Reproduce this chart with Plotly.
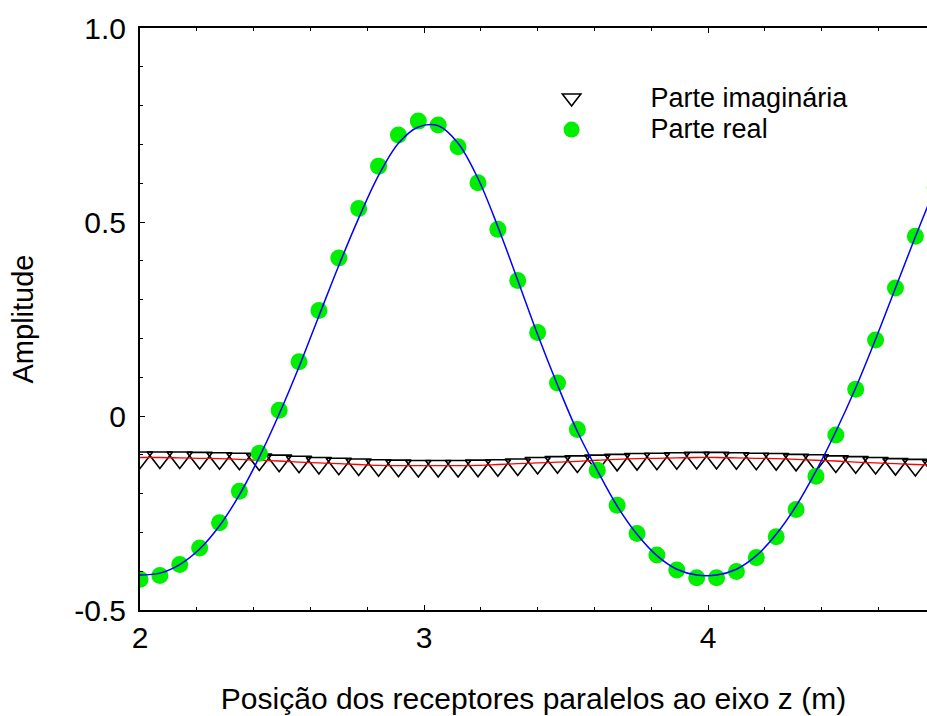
import plotly.graph_objects as go

# Receiver positions (m)
z_pos = [2.00, 2.07, 2.14, 2.21, 2.28, 2.35, 2.42, 2.49, 2.56, 2.63,
         2.70, 2.77, 2.84, 2.91, 2.98, 3.05, 3.12, 3.19, 3.26, 3.33,
         3.40, 3.47, 3.54, 3.61, 3.68, 3.75, 3.82, 3.89, 3.96, 4.03,
         4.10, 4.17, 4.24, 4.31, 4.38, 4.45, 4.52, 4.59, 4.66, 4.73, 4.80]

# Real part (measured points)
real_part = [-0.421, -0.411, -0.383, -0.340, -0.275, -0.194, -0.096, 0.015, 0.140, 0.272,
             0.407, 0.535, 0.644, 0.724, 0.760, 0.750, 0.694, 0.601, 0.481, 0.349,
             0.215, 0.085, -0.035, -0.140, -0.230, -0.303, -0.358, -0.397, -0.417, -0.417,
             -0.401, -0.365, -0.311, -0.241, -0.155, -0.049, 0.069, 0.196, 0.330, 0.463, 0.588]

# Real part (fitted curve)
real_fit = [-0.410, -0.405, -0.383, -0.343, -0.283, -0.203, -0.106, 0.005, 0.127, 0.258,
            0.388, 0.510, 0.620, 0.703, 0.745, 0.748, 0.703, 0.612, 0.488, 0.350,
            0.210, 0.080, -0.040, -0.140, -0.232, -0.305, -0.360, -0.395, -0.410, -0.410,
            -0.395, -0.360, -0.305, -0.232, -0.142, -0.040, 0.073, 0.198, 0.330, 0.462, 0.590]

# Imaginary part (measured points)
imag_part = [-0.107, -0.107, -0.107, -0.108, -0.109, -0.110, -0.112, -0.115, -0.118, -0.121,
             -0.123, -0.125, -0.127, -0.128, -0.129, -0.129, -0.129, -0.128, -0.127, -0.125,
             -0.121, -0.119, -0.117, -0.115, -0.113, -0.111, -0.110, -0.109, -0.108, -0.108,
             -0.109, -0.110, -0.111, -0.113, -0.114, -0.117, -0.119, -0.121, -0.124, -0.126, -0.128]

# Imaginary part (fitted curve)
imag_fit = [-0.107, -0.107, -0.108, -0.109, -0.110, -0.112, -0.114, -0.116, -0.119, -0.121,
            -0.123, -0.125, -0.127, -0.128, -0.128, -0.128, -0.128, -0.127, -0.125, -0.123,
            -0.121, -0.119, -0.117, -0.114, -0.112, -0.110, -0.109, -0.108, -0.107, -0.107,
            -0.108, -0.109, -0.110, -0.112, -0.114, -0.116, -0.119, -0.121, -0.123, -0.125, -0.127]

x_tickvals = [2, 3, 4]
x_ticktext = ["2", "3", "4"]
y_tickvals = [-0.5, 0, 0.5, 1.0]
y_ticktext = ["-0.5", "0", "0.5", "1.0"]

FONT = "Liberation Sans, Arial, sans-serif"
LEG_TXT = '<span style="font-size:27px">{}</span>'

fig = go.Figure()
fig.add_trace(go.Scatter(
    x=z_pos, y=imag_part, mode="markers", name=LEG_TXT.format("Parte imaginária"),
    marker=dict(symbol="triangle-down-open", size=22, color="black",
                line=dict(color="black", width=1.6))))
fig.add_trace(go.Scatter(
    x=z_pos, y=imag_fit, mode="lines", showlegend=False,
    line=dict(color="#ff0000", width=1.3, shape="spline")))
fig.add_trace(go.Scatter(
    x=z_pos, y=real_part, mode="markers", name=LEG_TXT.format("Parte real"),
    marker=dict(symbol="circle", size=17, color="#00ee00", line=dict(width=0))))
fig.add_trace(go.Scatter(
    x=z_pos, y=real_fit, mode="lines", showlegend=False,
    line=dict(color="#0000ff", width=1.5, shape="spline")))

fig.update_layout(
    width=927, height=716,
    margin=dict(l=140, r=0, t=28, b=106),
    paper_bgcolor="white", plot_bgcolor="white",
    font=dict(family=FONT, size=30, color="black"),
    legend=dict(x=0.448, y=0.9155, xanchor="left", yanchor="top",
                itemwidth=148, font=dict(size=22, family=FONT),
                bgcolor="rgba(0,0,0,0)", borderwidth=0),
    xaxis=dict(range=[2, 4.771], showgrid=False, zeroline=False,
               showline=True, linecolor="black", linewidth=2, mirror="allticks",
               ticks="inside", ticklen=5, tickwidth=1, tickcolor="black",
               tickvals=x_tickvals, ticktext=x_ticktext,
               tickfont=dict(size=30, family=FONT),
               minor=dict(dtick=0.2, tick0=2, ticks="inside", ticklen=3, tickcolor="black"),
               title=dict(text="Posição dos receptores paralelos ao eixo z (m)",
                          font=dict(size=30, family=FONT), standoff=35)),
    yaxis=dict(range=[-0.5, 1.0], showgrid=False, zeroline=False,
               showline=True, linecolor="black", linewidth=2, mirror=False,
               ticks="inside", ticklen=5, tickwidth=1, tickcolor="black",
               tickvals=y_tickvals, ticktext=y_ticktext, ticklabelstandoff=6,
               tickfont=dict(size=30, family=FONT),
               minor=dict(dtick=0.1, tick0=0, ticks="inside", ticklen=3, tickcolor="black"),
               title=dict(text="Amplitude", font=dict(size=29, family=FONT), standoff=32)),
)

fig.write_html("out.html")
